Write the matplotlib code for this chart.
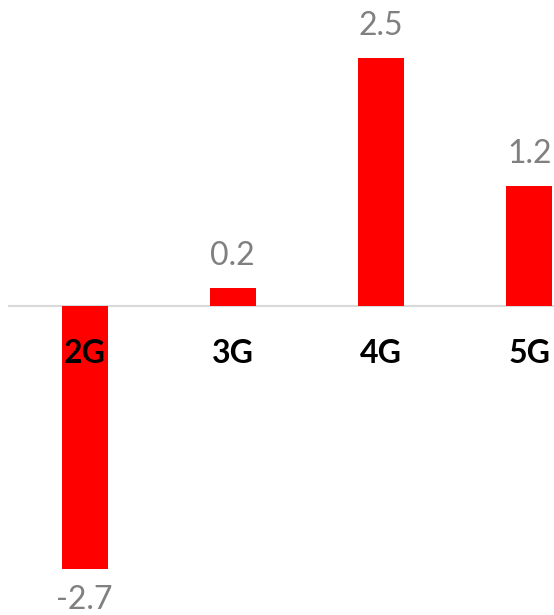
import matplotlib
matplotlib.use('Agg')
import matplotlib.pyplot as plt

categories = ['2G', '3G', '4G', '5G']
values = [-2.65, 0.18, 2.5, 1.21]
value_labels = ['-2.7', '0.2', '2.5', '1.2']

plt.rcParams['font.family'] = ['Lato', 'DejaVu Sans']

fig = plt.figure(figsize=(5.54, 6.15), dpi=100)
ax = fig.add_axes([0, 0, 1, 1])

x = list(range(len(categories)))
ax.bar(x, values, width=0.31, color='#ff0000', zorder=2)
ax.axhline(0, xmin=0.016, xmax=1, color='#d9d9d9', linewidth=1.5, zorder=1)

px = 100 / 72.0
for xi, v, lab in zip(x, values, value_labels):
    if v >= 0:
        ax.annotate(lab, (xi, v), xytext=(0, 23 / px), textcoords='offset points',
                    ha='center', va='baseline', fontsize=23, color='#808080')
    else:
        ax.annotate(lab, (xi, v), xytext=(0, -40 / px), textcoords='offset points',
                    ha='center', va='baseline', fontsize=23, color='#808080')

for xi, c in zip(x, categories):
    ax.annotate(c, (xi, 0), xytext=(0, -57 / px), textcoords='offset points',
                ha='center', va='baseline', fontsize=23, fontweight='bold', color='black', zorder=3)

ax.set_xlim(-0.570, 3.166)
ax.set_ylim(-3.115, 3.085)
ax.axis('off')

plt.savefig('out.png', dpi=100)
